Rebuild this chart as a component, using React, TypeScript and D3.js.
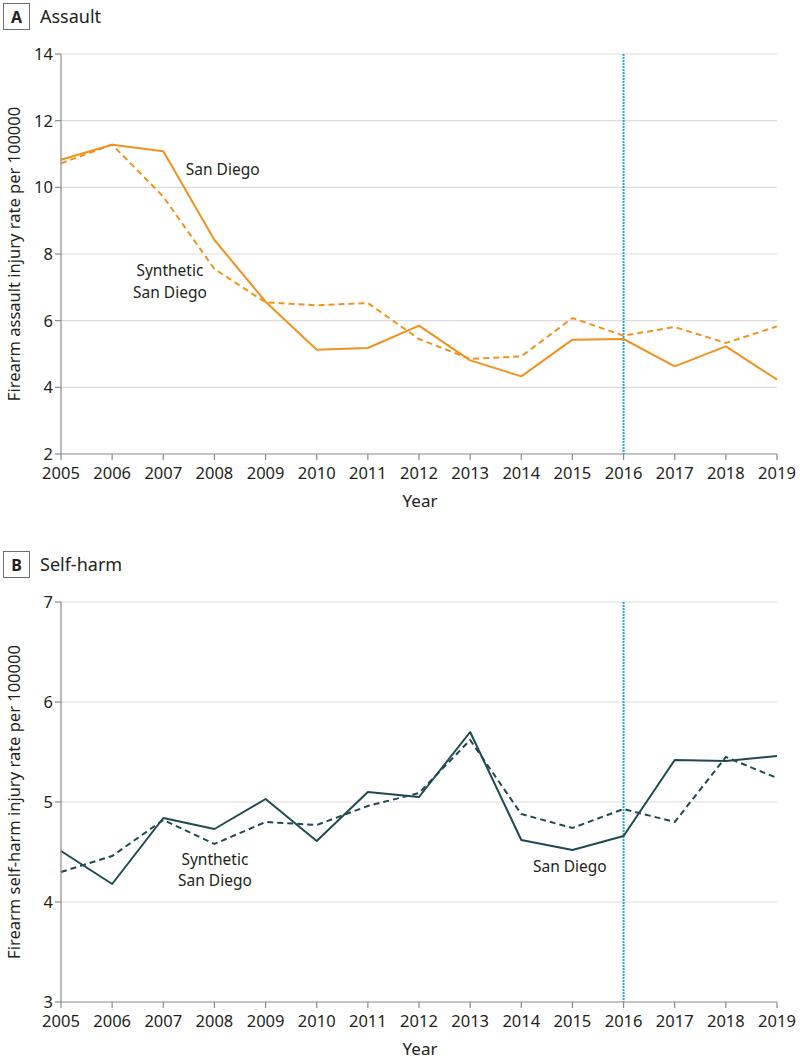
import React from 'react';
import * as d3 from 'd3';

const years = [2005, 2006, 2007, 2008, 2009, 2010, 2011, 2012, 2013, 2014, 2015, 2016, 2017, 2018, 2019];

// firearm assault injury rate per 100000
const assaultSanDiego = [10.83, 11.28, 11.08, 8.42, 6.57, 5.13, 5.18, 5.85, 4.81, 4.33, 5.43, 5.45, 4.63, 5.23, 4.23];
const assaultSynthetic = [10.72, 11.28, 9.72, 7.55, 6.55, 6.46, 6.53, 5.45, 4.85, 4.93, 6.08, 5.55, 5.81, 5.33, 5.83];
const assaultTicks = [2, 4, 6, 8, 10, 12, 14];

// firearm self-harm injury rate per 100000
const selfHarmSanDiego = [4.51, 4.18, 4.84, 4.73, 5.03, 4.61, 5.1, 5.05, 5.7, 4.62, 4.52, 4.66, 5.42, 5.41, 5.46];
const selfHarmSynthetic = [4.3, 4.46, 4.82, 4.58, 4.8, 4.77, 4.96, 5.09, 5.62, 4.88, 4.74, 4.93, 4.8, 5.45, 5.24];
const selfHarmTicks = [3, 4, 5, 6, 7];

const policyYear = 2016;

const FONT = '"Noto Sans", sans-serif';
const TEXT = '#231f20';
const AXIS = '#8a8a8a';
const GRID = '#dcdcdc';

interface Label {
  lines: string[];
  x: number; // year
  y: number; // value
  anchor: 'start' | 'middle';
}

interface PanelProps {
  letter: string;
  title: string;
  top: number;
  yLabel: string;
  domain: [number, number];
  ticks: number[];
  actual: number[];
  synthetic: number[];
  color: string;
  labels: Label[];
}

const Panel: React.FC<PanelProps> = ({
  letter, title, top, yLabel, domain, ticks, actual, synthetic, color, labels,
}) => {
  const plotTop = top + 54;
  const plotBottom = top + 454;
  const x = d3.scaleLinear().domain([years[0], years[years.length - 1]]).range([61, 777]);
  const y = d3.scaleLinear().domain(domain).range([plotBottom, plotTop]);
  const line = d3
    .line<number>()
    .x((_, i) => x(years[i]))
    .y((d) => y(d));

  return (
    <g>
      <rect x={3.5} y={top + 3.5} width={26} height={26} fill="none" stroke="#6d6e71" strokeWidth={1} />
      <text x={16.5} y={top + 22.5} textAnchor="middle" fontFamily={FONT} fontWeight="bold" fontSize={16} fill={TEXT}>
        {letter}
      </text>
      <text x={40} y={top + 23} fontFamily={FONT} fontSize={18} fill={TEXT}>
        {title}
      </text>

      {ticks.slice(1).map((t) => (
        <line key={'g' + t} x1={x.range()[0]} x2={x.range()[1]} y1={y(t)} y2={y(t)} stroke={GRID} strokeWidth={1.2} />
      ))}

      <line x1={x(policyYear)} x2={x(policyYear)} y1={plotTop} y2={plotBottom} stroke="#19a9e0" strokeWidth={2} strokeDasharray="2 1" />

      <path d={line(synthetic) || ''} fill="none" stroke={color} strokeWidth={2} strokeDasharray="6 4" />
      <path d={line(actual) || ''} fill="none" stroke={color} strokeWidth={2} strokeLinejoin="round" />

      {/* axes */}
      <line x1={x.range()[0]} x2={x.range()[0]} y1={plotTop} y2={plotBottom} stroke={AXIS} strokeWidth={1.2} />
      <line x1={x.range()[0]} x2={x.range()[1]} y1={plotBottom} y2={plotBottom} stroke={AXIS} strokeWidth={1.2} />
      {ticks.map((t) => (
        <g key={'y' + t}>
          <line x1={x.range()[0] - 6} x2={x.range()[0]} y1={y(t)} y2={y(t)} stroke={AXIS} strokeWidth={1.2} />
          <text x={53} y={y(t)} dy="0.36em" textAnchor="end" fontFamily={FONT} fontSize={16.5} fill={TEXT}>
            {t}
          </text>
        </g>
      ))}
      {years.map((yr) => (
        <g key={'x' + yr}>
          <line x1={x(yr)} x2={x(yr)} y1={plotBottom} y2={plotBottom + 6} stroke={AXIS} strokeWidth={1.2} />
          <text x={x(yr)} y={plotBottom + 25} textAnchor="middle" fontFamily={FONT} fontSize={16.5} fill={TEXT}>
            {yr}
          </text>
        </g>
      ))}
      <text x={420} y={plotBottom + 53} textAnchor="middle" fontFamily={FONT} fontSize={17} fill={TEXT}>
        Year
      </text>
      <text
        transform={`translate(20,${(plotTop + plotBottom) / 2}) rotate(-90)`}
        textAnchor="middle"
        fontFamily={FONT}
        fontSize={16.5}
        fill={TEXT}>
        {yLabel}
      </text>

      {labels.map((lb, i) => (
        <text key={'l' + i} x={x(lb.x)} y={y(lb.y)} textAnchor={lb.anchor} fontFamily={FONT} fontSize={15.5} fill={TEXT}>
          {lb.lines.map((s, j) => (
            <tspan key={j} x={x(lb.x)} dy={j === 0 ? `${0.35 - (lb.lines.length - 1) * 0.7}em` : '1.4em'}>
              {s}
            </tspan>
          ))}
        </text>
      ))}
    </g>
  );
};

const App: React.FC = () => (
  <svg width={800} height={1059} style={{ position: 'absolute', left: 0, top: 0, background: '#fff' }}>
    <Panel
      letter="A"
      title="Assault"
      top={0}
      yLabel="Firearm assault injury rate per 100000"
      domain={[2, 14]}
      ticks={assaultTicks}
      actual={assaultSanDiego}
      synthetic={assaultSynthetic}
      color="#f0921e"
      labels={[
        { lines: ['San Diego'], x: 2007.44, y: 10.53, anchor: 'start' },
        { lines: ['Synthetic', 'San Diego'], x: 2007.13, y: 7.18, anchor: 'middle' },
      ]}
    />
    <Panel
      letter="B"
      title="Self-harm"
      top={548}
      yLabel="Firearm self-harm injury rate per 100000"
      domain={[3, 7]}
      ticks={selfHarmTicks}
      actual={selfHarmSanDiego}
      synthetic={selfHarmSynthetic}
      color="#1f4a52"
      labels={[
        { lines: ['Synthetic', 'San Diego'], x: 2008.01, y: 4.32, anchor: 'middle' },
        { lines: ['San Diego'], x: 2014.95, y: 4.35, anchor: 'middle' },
      ]}
    />
  </svg>
);

export default App;
